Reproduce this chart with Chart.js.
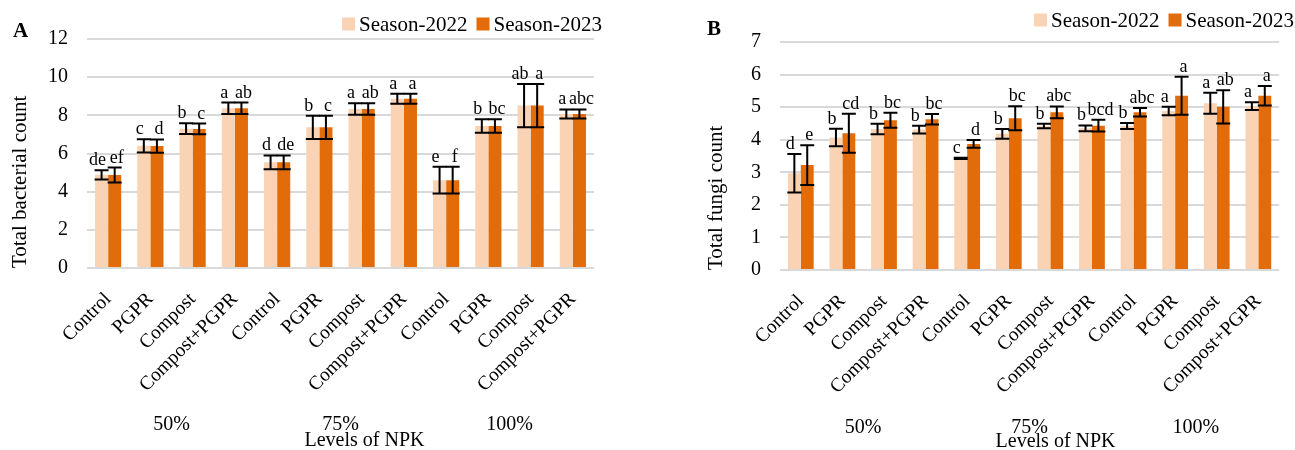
<!DOCTYPE html>
<html>
<head>
<meta charset="utf-8">
<script src="https://cdn.jsdelivr.net/npm/chart.js@4.4.1/dist/chart.umd.min.js"></script>
<style>
  html, body { margin: 0; padding: 0; background: #ffffff; }
  body { width: 1295px; height: 450px; position: relative; overflow: hidden; }
  .panel { position: absolute; top: 0; height: 450px; }
  #panelA { left: 0; width: 645px; }
  #panelB { left: 690px; width: 605px; }
</style>
</head>
<body>
<div class="panel" id="panelA"><canvas id="chartA" width="645" height="450"></canvas></div>
<div class="panel" id="panelB"><canvas id="chartB" width="605" height="450"></canvas></div>
<script>
// Treatments, repeated for each NPK level (50%, 75%, 100%)
const treatments = [
  'Control', 'PGPR', 'Compost', 'Compost+PGPR',
  'Control', 'PGPR', 'Compost', 'Compost+PGPR',
  'Control', 'PGPR', 'Compost', 'Compost+PGPR'
];
const npkLevels = ['50%', '75%', '100%'];
const seasons = ['Season-2022', 'Season-2023'];

// Total bacterial count
const bacteria2022 = [4.88, 6.40, 7.30, 8.37, 5.54, 7.37, 8.33, 8.87, 4.60, 7.44, 8.51, 8.07];
const bacteria2023 = [4.87, 6.39, 7.29, 8.37, 5.54, 7.37, 8.33, 8.87, 4.60, 7.44, 8.51, 8.07];
const bacteriaErr2022 = [0.24, 0.35, 0.28, 0.30, 0.36, 0.61, 0.30, 0.26, 0.70, 0.35, 1.13, 0.24];
const bacteriaErr2023 = [0.39, 0.35, 0.28, 0.30, 0.36, 0.61, 0.30, 0.26, 0.70, 0.35, 1.13, 0.24];
const bacteriaLetters2022 = ['de', 'c', 'b', 'a', 'd', 'b', 'a', 'a', 'e', 'b', 'ab', 'a'];
const bacteriaLetters2023 = ['ef', 'd', 'c', 'ab', 'de', 'c', 'ab', 'a', 'f', 'bc', 'a', 'abc'];

// Total fungi count
const fungi2022 = [2.97, 4.07, 4.33, 4.31, 3.43, 4.18, 4.42, 4.35, 4.42, 4.88, 5.12, 5.03];
const fungi2023 = [3.22, 4.20, 4.60, 4.63, 3.87, 4.66, 4.84, 4.43, 4.84, 5.35, 5.01, 5.35];
const fungiErr2022 = [0.59, 0.27, 0.16, 0.12, 0.02, 0.15, 0.07, 0.09, 0.09, 0.13, 0.32, 0.12];
const fungiErr2023 = [0.61, 0.60, 0.23, 0.16, 0.12, 0.37, 0.18, 0.18, 0.13, 0.58, 0.51, 0.30];
const fungiLetters2022 = ['d', 'b', 'b', 'b', 'c', 'b', 'b', 'b', 'b', 'a', 'a', 'a'];
const fungiLetters2023 = ['e', 'cd', 'bc', 'bc', 'd', 'bc', 'abc', 'bcd', 'abc', 'a', 'ab', 'a'];

const FONT = "'Liberation Serif', 'Times New Roman', serif";
const COLOR_2022 = '#FAD3B4';
const COLOR_2023 = '#E36C0A';
const GRID = '#d9d9d9';
const INK = '#000000';

// Error bars and significance letters on top of each bar
const errorBarPlugin = {
  id: 'errorBars',
  afterDatasetsDraw(chart) {
    const { ctx } = chart;
    const y = chart.scales.y;
    ctx.save();
    chart.data.datasets.forEach((ds, di) => {
      const meta = chart.getDatasetMeta(di);
      meta.data.forEach((bar, i) => {
        const v = ds.data[i];
        const e = ds.errors[i];
        const yTop = y.getPixelForValue(v + e);
        const yBot = y.getPixelForValue(v - e);
        const cx = bar.x;
        const cap = 7;
        ctx.strokeStyle = INK;
        ctx.lineWidth = 2;
        ctx.beginPath();
        ctx.moveTo(cx, yTop); ctx.lineTo(cx, yBot);
        ctx.moveTo(cx - cap, yTop); ctx.lineTo(cx + cap, yTop);
        ctx.moveTo(cx - cap, yBot); ctx.lineTo(cx + cap, yBot);
        ctx.stroke();
        // letters of the first season lean left, the second season's lean right
        ctx.fillStyle = INK;
        ctx.font = '18px ' + FONT;
        ctx.textAlign = 'center';
        ctx.textBaseline = 'alphabetic';
        ctx.fillText(ds.letters[i], cx + ds.letterShift, yTop - 5);
      });
    });
    ctx.restore();
  }
};

// Legend, panel letter, NPK level labels and the shared axis title
const decorPlugin = {
  id: 'decor',
  afterDraw(chart, args, o) {
    const { ctx, chartArea } = chart;
    const x = chart.scales.x;
    ctx.save();
    ctx.fillStyle = INK;

    // panel letter
    ctx.font = 'bold 21px ' + FONT;
    ctx.textAlign = 'left';
    ctx.textBaseline = 'middle';
    ctx.fillText(o.panel, o.panelX, o.panelY);

    // legend, right aligned
    ctx.font = '21px ' + FONT;
    const box = 13, gapText = 4, gapItem = 9;
    const items = chart.data.datasets.map(d => ({
      label: d.label, color: d.backgroundColor, w: ctx.measureText(d.label).width
    }));
    const total = items.reduce((s, it) => s + box + gapText + it.w, 0) + gapItem * (items.length - 1);
    let lx = o.legendRight - total;
    items.forEach(it => {
      ctx.fillStyle = it.color;
      ctx.fillRect(lx, o.legendY - box / 2, box, box);
      lx += box + gapText;
      ctx.fillStyle = INK;
      ctx.textAlign = 'left';
      ctx.textBaseline = 'middle';
      ctx.fillText(it.label, lx, o.legendY + 1);
      lx += it.w + gapItem;
    });

    // NPK level labels centred under each group of four treatments
    ctx.font = '20px ' + FONT;
    ctx.textAlign = 'center';
    ctx.textBaseline = 'middle';
    const per = treatments.length / npkLevels.length;
    npkLevels.forEach((lvl, g) => {
      const a = x.getPixelForTick(g * per);
      const b = x.getPixelForTick(g * per + per - 1);
      ctx.fillText(lvl, (a + b) / 2, o.groupY);
    });

    // axis title
    ctx.fillText('Levels of NPK', (chartArea.left + chartArea.right) / 2 + o.titleShift, o.titleY);
    ctx.restore();
  }
};

function makePanel(id, cfg) {
  return new Chart(document.getElementById(id), {
    type: 'bar',
    data: {
      labels: treatments,
      datasets: [
        { label: seasons[0], data: cfg.s1, errors: cfg.e1, letters: cfg.l1, letterShift: -4,
          backgroundColor: COLOR_2022, categoryPercentage: 0.62, barPercentage: 1.0 },
        { label: seasons[1], data: cfg.s2, errors: cfg.e2, letters: cfg.l2, letterShift: 2,
          backgroundColor: COLOR_2023, categoryPercentage: 0.62, barPercentage: 1.0 }
      ]
    },
    options: {
      responsive: false,
      animation: false,
      layout: { padding: { left: 0, right: cfg.padRight, top: cfg.padTop, bottom: 0 } },
      plugins: {
        legend: { display: false },
        tooltip: { enabled: false },
        decor: cfg.decor
      },
      scales: {
        x: {
          grid: { display: false, drawTicks: false },
          border: { display: false },
          ticks: {
            color: INK, font: { family: FONT, size: 19.5 },
            minRotation: 45, maxRotation: 45, autoSkip: false, padding: 20
          },
          afterFit(scale) { scale.height = cfg.xHeight; }
        },
        y: {
          min: 0, max: cfg.max,
          grid: { color: GRID, lineWidth: 2, drawTicks: false },
          border: { display: false },
          ticks: { stepSize: cfg.step, color: INK, font: { family: FONT, size: 20 }, padding: 19 },
          title: {
            display: true, text: cfg.yTitle, align: 'start', color: INK,
            font: { family: FONT, size: 21 }, padding: { top: cfg.titlePad, bottom: 0 }
          },
          afterFit(scale) { scale.width = cfg.yWidth; }
        }
      }
    },
    plugins: [errorBarPlugin, decorPlugin]
  });
}

makePanel('chartA', {
  s1: bacteria2022, s2: bacteria2023, e1: bacteriaErr2022, e2: bacteriaErr2023,
  l1: bacteriaLetters2022, l2: bacteriaLetters2023,
  max: 12, step: 2, yTitle: 'Total bacterial count',
  padRight: 51, padTop: 39, xHeight: 182, yWidth: 87, titlePad: 7.5,
  decor: { panel: 'A', panelX: 13, panelY: 32, legendRight: 602, legendY: 24,
           groupY: 425, titleY: 441, titleShift: 24 }
});

makePanel('chartB', {
  s1: fungi2022, s2: fungi2023, e1: fungiErr2022, e2: fungiErr2023,
  l1: fungiLetters2022, l2: fungiLetters2023,
  max: 7, step: 1, yTitle: 'Total fungi count',
  padRight: 3, padTop: 42, xHeight: 180, yWidth: 90, titlePad: 14,
  decor: { panel: 'B', panelX: 17, panelY: 30, legendRight: 604, legendY: 20,
           groupY: 428, titleY: 442, titleShift: 26 }
});
</script>
</body>
</html>
